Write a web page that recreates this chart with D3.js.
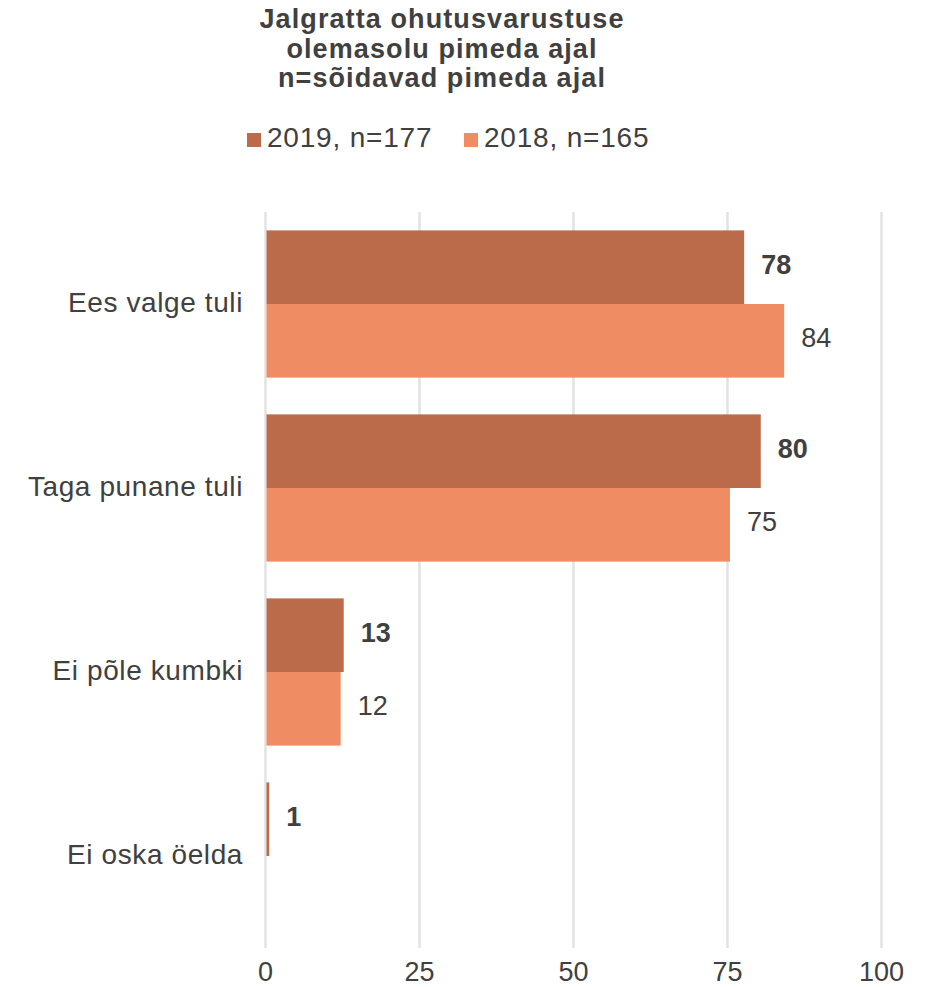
<!DOCTYPE html>
<html><head><meta charset="utf-8">
<script src="https://cdn.jsdelivr.net/npm/d3@7"></script>
<style>body{margin:0;background:#fff;} text{font-family:"Liberation Sans",Arial,sans-serif;fill:#404040;}</style>
</head><body>
<svg id="c" width="934" height="987"></svg>
<script>
const titleLines = ["Jalgratta ohutusvarustuse", "olemasolu pimeda ajal", "n=sõidavad pimeda ajal"];
const categories = ["Ees valge tuli", "Taga punane tuli", "Ei põle kumbki", "Ei oska öelda"];
const seriesNames = ["2019, n=177", "2018, n=165"];
const values2019 = [77.7, 80.4, 12.7, 0.6];
const values2018 = [84.2, 75.4, 12.2, null];
const tickValues = [0, 25, 50, 75, 100];
const colors = ["#BC6B4A", "#F08C63"];

const svg = d3.select("#c");
const x = d3.scaleLinear().domain([0, 100]).range([265.5, 881.5]);
const y = d3.scaleBand().domain(categories).range([212, 948]).paddingInner(0.2).paddingOuter(0.1);
const ySub = d3.scaleBand().domain([0, 1]).range([0, y.bandwidth()]);

// gridlines
svg.append("g").selectAll("line").data(tickValues).join("line")
  .attr("x1", d => x(d)).attr("x2", d => x(d))
  .attr("y1", 212).attr("y2", 948)
  .attr("stroke", "#e2e2e2").attr("stroke-width", 2.5);

// title
svg.append("g").selectAll("text").data(titleLines).join("text")
  .attr("x", 442).attr("y", (d, i) => 28 + i * 29.5)
  .attr("text-anchor", "middle").attr("font-weight", "bold").attr("font-size", 27)
  .attr("letter-spacing", 1.1)
  .text(d => d);

// legend
const legX = [247, 464];
const leg = svg.append("g").selectAll("g").data(seriesNames).join("g")
  .attr("transform", (d, i) => `translate(${legX[i]},0)`);
leg.append("rect").attr("x", 0).attr("y", 133).attr("width", 14).attr("height", 14)
  .attr("fill", (d, i) => colors[i]);
leg.append("text").attr("x", 20).attr("y", 147).attr("font-size", 28)
  .attr("letter-spacing", 0.8).text(d => d);

const series = [values2019, values2018];
const fmt = d3.format(".0f");
series.forEach((vals, si) => {
  const data = categories.map((c, i) => ({c, v: vals[i]})).filter(d => d.v != null);
  svg.append("g").selectAll("rect").data(data).join("rect")
    .attr("x", x(0) + 1)
    .attr("y", d => y(d.c) + ySub(si))
    .attr("width", d => x(d.v) - x(0) - 1)
    .attr("height", ySub.bandwidth())
    .attr("fill", colors[si]);
  svg.append("g").selectAll("text").data(data).join("text")
    .attr("x", d => x(d.v) + 17)
    .attr("y", d => y(d.c) + ySub(si) + ySub.bandwidth() / 2 - 3)
    .attr("dy", "0.35em")
    .attr("font-size", 27)
    .attr("font-weight", si === 0 ? "bold" : "normal")
    .text(d => fmt(d.v));
});

// category axis labels
svg.append("g").selectAll("text").data(categories).join("text")
  .attr("x", 243).attr("y", d => y(d) + y.bandwidth() / 2 - 2)
  .attr("dy", "0.35em").attr("text-anchor", "end").attr("font-size", 28)
  .attr("letter-spacing", 0.6)
  .text(d => d);

// x axis tick labels
svg.append("g").selectAll("text").data(tickValues).join("text")
  .attr("x", d => x(d)).attr("y", 981)
  .attr("text-anchor", "middle").attr("font-size", 27)
  .text(d => d);
</script>
</body></html>
